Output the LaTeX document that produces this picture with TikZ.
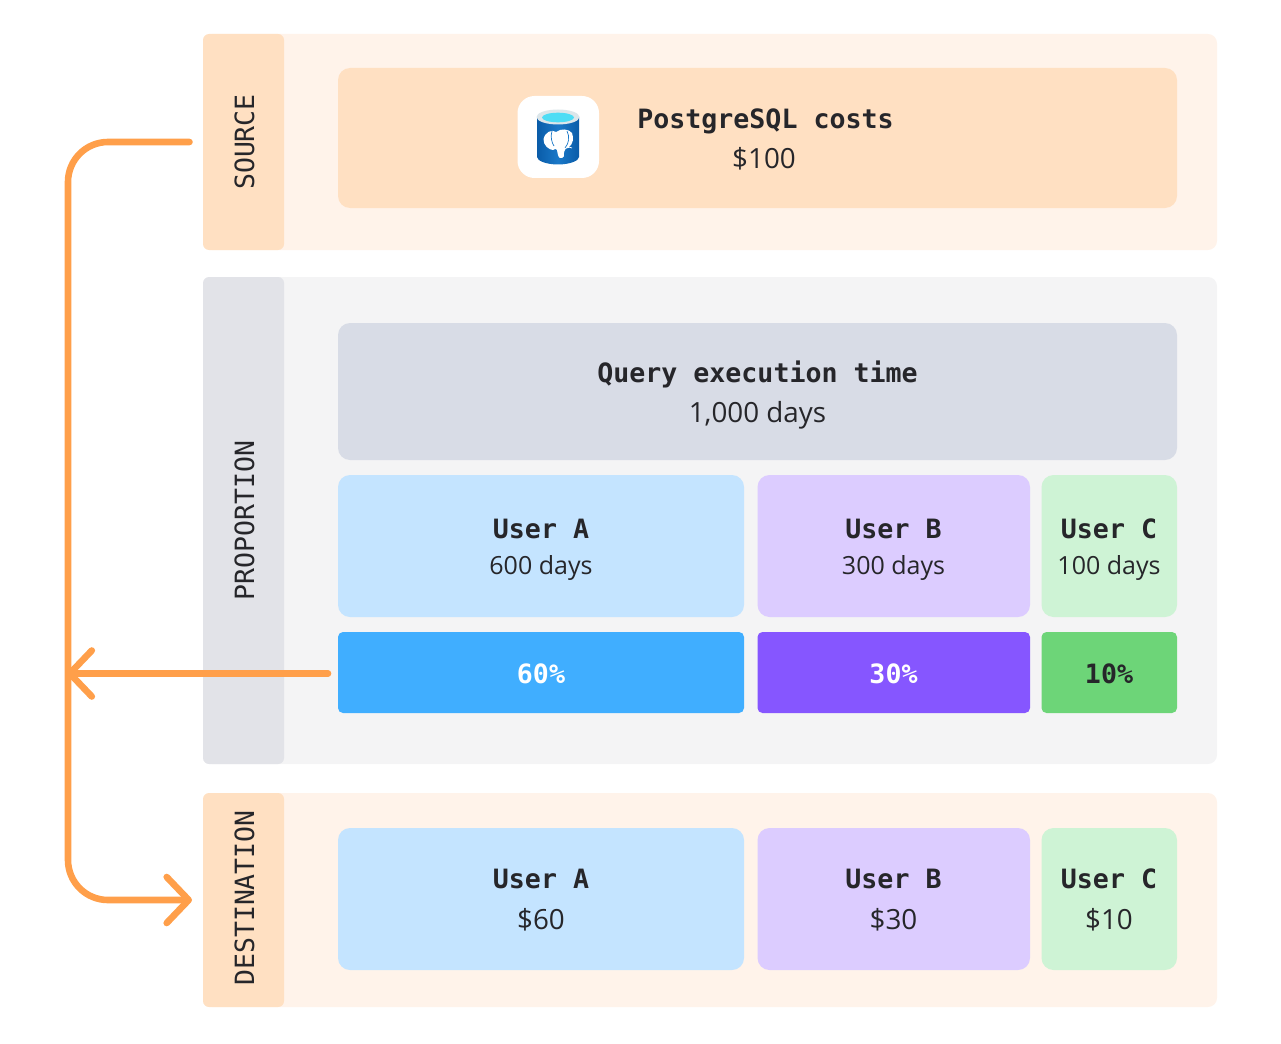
\documentclass[tikz,border=0pt]{standalone}
\usepackage{fontspec}
\setmainfont{Open Sans}
\newfontfamily\monofam{DejaVu Sans Mono}
\usetikzlibrary{arrows.meta,shadings}
\definecolor{panelwarm}{HTML}{FFF3EA}
\definecolor{warm}{HTML}{FFE0C2}
\definecolor{panelgrey}{HTML}{F4F4F5}
\definecolor{sidegrey}{HTML}{E2E3E8}
\definecolor{querygrey}{HTML}{D8DCE6}
\definecolor{lblue}{HTML}{C4E4FF}
\definecolor{lpurple}{HTML}{DCCCFF}
\definecolor{lgreen}{HTML}{CEF3D5}
\definecolor{sblue}{HTML}{40AEFF}
\definecolor{spurple}{HTML}{8656FF}
\definecolor{sgreen}{HTML}{6DD578}
\definecolor{flow}{HTML}{FF9F4A}
\definecolor{ink}{HTML}{26262A}
\definecolor{pgblue}{HTML}{1A78C8}
\definecolor{pgdark}{HTML}{0A5CA8}
\definecolor{pgrim}{HTML}{DCE6EA}
\definecolor{pgwater}{HTML}{4FDDF5}
\tikzset{
  x=1pt,y=-1pt,
  block/.style={rectangle,inner sep=0pt,outer sep=0pt,draw=none,rounded corners=#1},
  block/.default=10pt,
  head/.style={anchor=base,inner sep=0pt,text=ink,font=\monofam\bfseries\fontsize{26.6}{30}\selectfont},
  body/.style={anchor=base,inner sep=0pt,text=ink,font=\fontsize{#1}{30}\selectfont},
  body/.default=27.8,
  side/.style={rotate=90,inner sep=0pt,text=ink,font=\monofam\fontsize{26.5}{30}\selectfont},
  flowline/.style={draw=flow,line width=6.6pt,line cap=round,line join=round},
  barb/.style={-{Straight Barb[length=22pt,width=46pt,round]}},
}
% name, x1, y1, x2, y2, fill, radius
\newcommand{\panelbox}[7]{%
  \pgfmathsetlengthmacro{\pw}{#4-#2}%
  \pgfmathsetlengthmacro{\ph}{#5-#3}%
  \node[block=#7,fill=#6,minimum width=\pw,minimum height=\ph] (#1) at ({(#2+#4)/2},{(#3+#5)/2}) {};%
}
\begin{document}
\begin{tikzpicture}
\useasboundingbox (0,0) rectangle (1281,1043);
% panels
\panelbox{srcpanel}{203}{34}{1217}{250}{panelwarm}{9pt}
\panelbox{srcside}{203}{34}{284}{250}{warm}{6pt}
\panelbox{proppanel}{203}{277}{1217}{764}{panelgrey}{9pt}
\panelbox{propside}{203}{277}{284}{764}{sidegrey}{6pt}
\panelbox{dstpanel}{203}{793}{1217}{1007}{panelwarm}{9pt}
\panelbox{dstside}{203}{793}{284}{1007}{warm}{6pt}
\node[side] (srclabel) at (244.5,142) {SOURCE};
\node[side] (proplabel) at (244.5,520.5) {PROPORTION};
\node[side] (dstlabel) at (244.5,898) {DESTINATION};
% source
\panelbox{pgcost}{338}{68}{1177}{208}{warm}{12pt}
\panelbox{iconbox}{517.5}{96}{599}{178}{white}{17pt}
\node[head] (pgname) at (765.5,128.5) {PostgreSQL costs};
\node[body] (pgval) at (764,168) {\$100};
% icon
\begin{scope}
  \path[left color=pgdark,right color=pgdark,middle color=pgblue]
    (537,117) -- (537,157) .. controls (537,161) and (547,164.5) .. (558,164.5)
    .. controls (569,164.5) and (579,161) .. (579,157) -- (579,117) -- cycle;
  \fill[pgrim] (558,117) ellipse [x radius=21.5pt,y radius=7.5pt];
  \fill[pgwater] (558,117.5) ellipse [x radius=16pt,y radius=4.8pt];
  \fill[white] (543.5,139) .. controls (545,132) and (552,129) .. (556,132)
    .. controls (561,128) and (569,129) .. (572,133)
    .. controls (574,138) and (573,144) .. (569,147)
    .. controls (566,148) and (565,149) .. (564,152)
    .. controls (564,156) and (564,158) .. (562,158)
    .. controls (558,159) and (558,155) .. (557,150)
    .. controls (556,147) and (555,150) .. (553,150)
    .. controls (549,150) and (543,145) .. (543.5,139) -- cycle;
  \draw[pgblue,line width=0.7pt] (552,131) .. controls (550,137) and (552,143) .. (554,146);
  \draw[pgblue,line width=0.7pt] (567,131) .. controls (570,137) and (569,143) .. (565,148);
  \draw[white,line width=0.7pt] (566,148) .. controls (569,147) and (571,147) .. (572,148);
\end{scope}
% proportion
\panelbox{query}{338}{323}{1177}{460}{querygrey}{12pt}
\node[head] (querytitle) at (757.5,382) {Query execution time};
\node[body] (queryval) at (757.5,422) {1,000 days};
\panelbox{ua}{338}{475}{744}{617}{lblue}{12pt}
\panelbox{ub}{757.5}{475}{1030}{617}{lpurple}{12pt}
\panelbox{uc}{1041.5}{475}{1177}{617}{lgreen}{12pt}
\node[head] (uat) at (541,538) {User A};
\node[body=25] (uav) at (541,574) {600 days};
\node[head] (ubt) at (893.5,538) {User B};
\node[body=25] (ubv) at (893.5,574) {300 days};
\node[head] (uct) at (1109,538) {User C};
\node[body=25] (ucv) at (1109,574) {100 days};
\panelbox{pa}{338}{632}{744}{713}{sblue}{5pt}
\panelbox{pb}{757.5}{632}{1030}{713}{spurple}{5pt}
\panelbox{pc}{1041.5}{632}{1177}{713}{sgreen}{5pt}
\node[head,text=white] (pat) at (541,683) {60\%};
\node[head,text=white] (pbt) at (893.5,683) {30\%};
\node[head] (pct) at (1109,683) {10\%};
% destination
\panelbox{da}{338}{828}{744}{970}{lblue}{12pt}
\panelbox{db}{757.5}{828}{1030}{970}{lpurple}{12pt}
\panelbox{dc}{1041.5}{828}{1177}{970}{lgreen}{12pt}
\node[head] (dat) at (541,888) {User A};
\node[body] (dav) at (541,929) {\$60};
\node[head] (dbt) at (893.5,888) {User B};
\node[body] (dbv) at (893.5,929) {\$30};
\node[head] (dct) at (1109,888) {User C};
\node[body] (dcv) at (1109,929) {\$10};
% connectors
\coordinate (flowstart) at (189.5,142);
\coordinate (flowend) at (192,900);
\coordinate (pctstart) at (328,673.5);
\coordinate (pctend) at (66.5,673.5);
\draw[flowline,barb,rounded corners=40pt] (flowstart) -- (68,142) -- (68,900) -- (flowend);
\draw[flowline,barb] (pctstart) -- (pctend);
\end{tikzpicture}
\end{document}
